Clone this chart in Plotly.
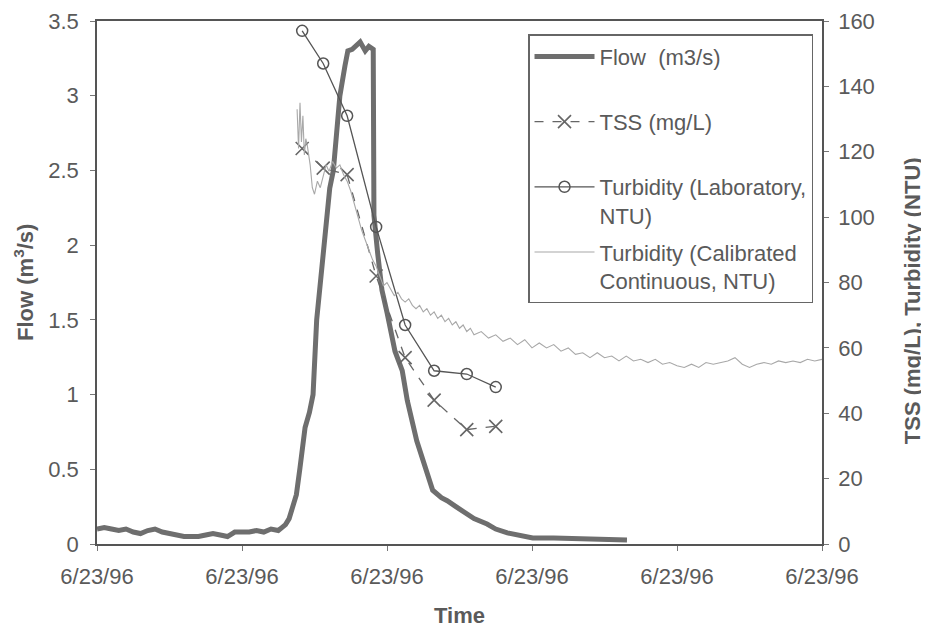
import plotly.graph_objects as go

# time axis in hours from the start of the record (all on 6/23/96)
tick_hours = [0, 2, 4, 6, 8, 10]
tick_labels = ["6/23/96"] * 6

flow_hours = [0.0, 0.1, 0.2, 0.3, 0.4, 0.5, 0.6, 0.7, 0.8, 0.9, 1.0, 1.1, 1.2,
              1.3, 1.4, 1.5, 1.6, 1.7, 1.8, 1.9, 2.0, 2.1, 2.2, 2.3, 2.4, 2.5,
              2.55, 2.6, 2.65, 2.7, 2.75, 2.8, 2.87, 2.93, 2.98, 3.03, 3.13,
              3.21, 3.26, 3.35, 3.42, 3.46, 3.52, 3.56, 3.63, 3.70, 3.75, 3.81,
              3.82, 3.87, 3.93, 4.0, 4.11, 4.21, 4.28, 4.41, 4.55, 4.63, 4.75,
              4.83, 4.95, 5.10, 5.2, 5.38, 5.5, 5.66, 5.8, 6.01, 6.3, 6.66,
              7.0, 7.31]
flow = [0.10, 0.11, 0.10, 0.09, 0.10, 0.08, 0.07, 0.09, 0.10, 0.08, 0.07,
        0.06, 0.05, 0.05, 0.05, 0.06, 0.07, 0.06, 0.05, 0.08, 0.08, 0.08,
        0.09, 0.08, 0.10, 0.09, 0.11, 0.13, 0.17, 0.24, 0.33, 0.51, 0.78,
        0.88, 1.0, 1.5, 2.0, 2.38, 2.5, 3.0, 3.2, 3.30, 3.31, 3.33, 3.36,
        3.30, 3.33, 3.31, 2.2, 1.95, 1.70, 1.55, 1.29, 1.16, 0.96, 0.69,
        0.47, 0.36, 0.31, 0.29, 0.25, 0.20, 0.17, 0.134, 0.10, 0.074, 0.06,
        0.04, 0.04, 0.033, 0.03, 0.027]

sample_hours = [2.83, 3.12, 3.45, 3.85, 4.25, 4.65, 5.10, 5.50]
tss = [121, 115, 113, 82, 57, 44, 35, 36]
turb_lab = [157, 147, 131, 97, 67, 53, 52, 48]

cont_hours = [2.76, 2.78, 2.80, 2.82, 2.84, 2.86, 2.88, 2.90, 2.94, 2.97, 3.00,
              3.04, 3.08, 3.12, 3.16, 3.20, 3.25, 3.30, 3.35, 3.40, 3.45, 3.50,
              3.55, 3.60, 3.65, 3.70, 3.75, 3.80, 3.85, 3.90, 3.95, 4.00, 4.05,
              4.10, 4.15, 4.20, 4.25, 4.30, 4.35, 4.40, 4.45, 4.50, 4.55, 4.60,
              4.65, 4.70, 4.75, 4.80, 4.85, 4.90, 4.95, 5.00, 5.05, 5.10, 5.15,
              5.20, 5.30, 5.40, 5.50, 5.60, 5.70, 5.80, 5.90, 6.00, 6.10, 6.20,
              6.30, 6.40, 6.50, 6.60, 6.70, 6.80, 6.90, 7.00, 7.10, 7.20, 7.30,
              7.40, 7.50, 7.60, 7.70, 7.80, 7.90, 8.00, 8.10, 8.20, 8.30, 8.40,
              8.50, 8.60, 8.70, 8.80, 8.90, 9.00, 9.10, 9.20, 9.30, 9.40, 9.50,
              9.60, 9.70, 9.80, 9.90, 10.00]
turb_cont = [133, 121, 135, 123, 131, 119, 124, 122, 116, 109, 107, 111, 109,
             113, 116, 114, 117, 115, 116, 113, 111, 108, 104, 100, 96, 93, 90,
             87, 85, 82, 79, 80, 78, 76, 77, 75, 74, 75, 73, 72, 73, 71, 72, 70,
             71, 69, 70, 68, 69, 67, 68, 66, 67, 65, 66, 64, 65, 63, 64, 62, 63,
             61, 62.5, 60, 61.5, 60, 61, 59, 60, 58, 58.5, 57, 58.5, 57, 57.5,
             56, 57.5, 56, 56.5, 55.5, 56.5, 55, 55.5, 54.5, 54, 55, 54, 55.5,
             55, 55.5, 56, 57, 55, 54, 55, 55.5, 55, 56, 55.5, 56, 55.5, 56.5,
             56, 56.5]

TXT = "#5a5a5a"
FONT = "Arial, 'Liberation Sans', sans-serif"
FS = 22
NB = "\u00a0"

fig = go.Figure()
fig.add_trace(go.Scatter(
    x=flow_hours, y=flow, name="Flow  (m3/s)<br>" + NB, mode="lines",
    line=dict(color="#6e6e6e", width=5), legendgroup="a"))
fig.add_trace(go.Scatter(
    x=sample_hours, y=tss, name="TSS (mg/L)<br>" + NB, mode="lines+markers",
    yaxis="y2", line=dict(color="#666666", width=1.3, dash="dash"),
    marker=dict(symbol="x-thin-open", size=13,
                line=dict(color="#666666", width=1.6)),
    legendgroup="b"))
fig.add_trace(go.Scatter(
    x=sample_hours, y=turb_lab, name="Turbidity (Laboratory,<br>NTU)",
    mode="lines+markers", yaxis="y2",
    line=dict(color="#555555", width=1.3),
    marker=dict(symbol="circle-open", size=11,
                line=dict(color="#555555", width=1.5)),
    legendgroup="c"))
fig.add_trace(go.Scatter(
    x=cont_hours, y=turb_cont, name="Turbidity (Calibrated<br>Continuous, NTU)",
    mode="lines", yaxis="y2", line=dict(color="#a8a8a8", width=1.1),
    legendgroup="d"))

axis_common = dict(showline=True, linecolor="#555555", linewidth=1.5,
                   ticks="outside", ticklen=5, tickcolor="#777777",
                   showgrid=False, zeroline=False, automargin=False,
                   tickfont=dict(family=FONT, size=FS, color=TXT))

title_font = dict(family=FONT, size=FS, color=TXT)

# page body adds an 8px offset, so margins are shifted to compensate
fig.update_layout(
    width=929, height=629,
    margin=dict(l=89, r=115, t=13, b=93),
    paper_bgcolor="white", plot_bgcolor="white",
    font=dict(family=FONT, size=FS, color=TXT),
    showlegend=True,
    xaxis=dict(range=[0, 10], tickvals=tick_hours, ticktext=tick_labels,
               mirror=True, ticklabelstandoff=7, **axis_common),
    yaxis=dict(range=[0, 3.5], dtick=0.5, ticklabelstandoff=7,
               **axis_common),
    yaxis2=dict(range=[0, 160], dtick=20, overlaying="y", side="right",
                ticklabelstandoff=5, **axis_common),
    legend=dict(x=0.5945, y=0.975, xanchor="left", yanchor="top",
                bgcolor="white", bordercolor="#666666", borderwidth=1.5,
                font=dict(family=FONT, size=FS, color=TXT),
                traceorder="grouped", tracegroupgap=5, valign="top",
                itemwidth=60),
    annotations=[
        dict(text="<b>Time</b>", xref="paper", yref="paper",
             x=0.5, y=-0.136, xanchor="center", yanchor="middle",
             showarrow=False, font=title_font),
        dict(text="<b>Flow (m<sup>3</sup>/s)</b>", xref="paper",
             yref="paper", x=-0.1007, y=0.501, xanchor="center",
             yanchor="middle", textangle=-90, showarrow=False,
             font=title_font),
        dict(text="<b>TSS (mg/L), Turbidity (NTU)</b>",
             xref="paper", yref="paper", x=1.124, y=0.466,
             xanchor="center", yanchor="middle", textangle=-90,
             showarrow=False, font=title_font),
    ],
)

fig.write_html("out.html")
